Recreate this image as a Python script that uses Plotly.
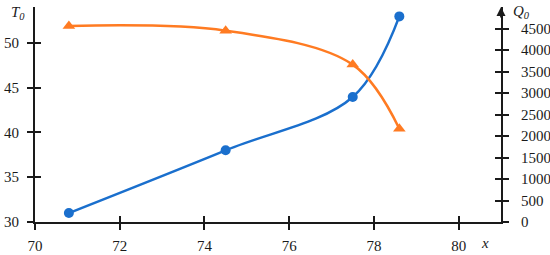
import plotly.graph_objects as go

x_vals = [70.8, 74.5, 77.5, 78.6]
t0_vals = [31.0, 38.0, 43.95, 52.95]
q0_vals = [4560, 4450, 3660, 2170]

x_ticks = [70, 72, 74, 76, 78, 80]
t_ticks = [30, 35, 40, 45, 50]
q_ticks = [0, 500, 1000, 1500, 2000, 2500, 3000, 3500, 4000, 4500]

BLUE = "#1a6fcd"
ORANGE = "#ff7b22"
FONT = dict(family="Liberation Serif, DejaVu Serif, serif", size=15, color="#1a1a1a")

x_range = [70, 81]
t_range = [30, 54]
q_range = [0, 5000]

fig = go.Figure()

# T_0 on the left axis
fig.add_trace(go.Scatter(
    x=x_vals, y=t0_vals, mode="lines+markers",
    line=dict(color=BLUE, width=2.5, shape="spline", smoothing=1),
    marker=dict(symbol="circle", size=10, color=BLUE),
    yaxis="y", xaxis="x", showlegend=False
))

# Q_0 on the right axis
fig.add_trace(go.Scatter(
    x=x_vals, y=q0_vals, mode="lines+markers",
    line=dict(color=ORANGE, width=2.5, shape="spline", smoothing=1),
    marker=dict(symbol="triangle-up", size=11, color=ORANGE),
    yaxis="y2", xaxis="x", showlegend=False
))

# empty traces so the inner-tick axes get drawn
fig.add_trace(go.Scatter(x=[], y=[], xaxis="x2", yaxis="y3", showlegend=False))
fig.add_trace(go.Scatter(x=[], y=[], xaxis="x", yaxis="y4", showlegend=False))

axis_common = dict(showgrid=False, zeroline=False, tickcolor="#1a1a1a",
                   tickwidth=1.5, ticklen=6, tickfont=FONT, automargin=False)

fig.update_layout(
    width=550, height=255,
    margin=dict(l=35, r=49, t=7, b=33),
    plot_bgcolor="white", paper_bgcolor="white",
    font=FONT,
    xaxis=dict(range=x_range, tickvals=x_ticks, ticks="outside",
               showline=True, linecolor="#1a1a1a", linewidth=1.8,
               anchor="y", ticklabelstandoff=3, **axis_common),
    xaxis2=dict(range=x_range, tickvals=x_ticks, ticks="inside",
                showline=False, showticklabels=False, overlaying="x",
                anchor="y3", **axis_common),
    yaxis=dict(range=t_range, tickvals=t_ticks, ticks="outside",
               showline=True, linecolor="#1a1a1a", linewidth=1.8,
               anchor="x", ticklabelstandoff=5, **axis_common),
    yaxis2=dict(range=q_range, tickvals=q_ticks, ticks="outside", side="right",
                showline=True, linecolor="#1a1a1a", linewidth=1.8,
                overlaying="y", anchor="x", ticklabelstandoff=9, **axis_common),
    yaxis3=dict(range=t_range, tickvals=t_ticks, ticks="inside", side="left",
                showline=False, showticklabels=False, overlaying="y",
                anchor="x2", **axis_common),
    yaxis4=dict(range=q_range, tickvals=q_ticks, ticks="inside", side="right",
                showline=False, showticklabels=False, overlaying="y",
                anchor="x", **axis_common),
)

# arrow on top of the right axis
fig.add_annotation(x=1, y=1, xref="paper", yref="paper", text="",
                   showarrow=True, arrowhead=2, arrowsize=1, arrowwidth=1.8,
                   arrowcolor="#1a1a1a", ax=0, ay=12)

# axis titles
fig.add_annotation(x=0, y=1, xref="paper", yref="paper", xanchor="right", yanchor="top",
                   xshift=-8, yshift=5, text="<i>T</i><sub><i>0</i></sub>",
                   showarrow=False, font=FONT)
fig.add_annotation(x=1, y=1, xref="paper", yref="paper", xanchor="left", yanchor="top",
                   xshift=10, yshift=6, text="<i>Q</i><sub><i>0</i></sub>",
                   showarrow=False, font=FONT)
fig.add_annotation(x=1, y=0, xref="paper", yref="paper", xanchor="right", yanchor="top",
                   xshift=-10, yshift=-11, text="<i>x</i>",
                   showarrow=False, font=FONT)

# drop the browser's default page margin so the figure sits at the corner
fig.write_html("out.html", config={"displayModeBar": False},
               post_script="document.body.style.margin='0px';")
